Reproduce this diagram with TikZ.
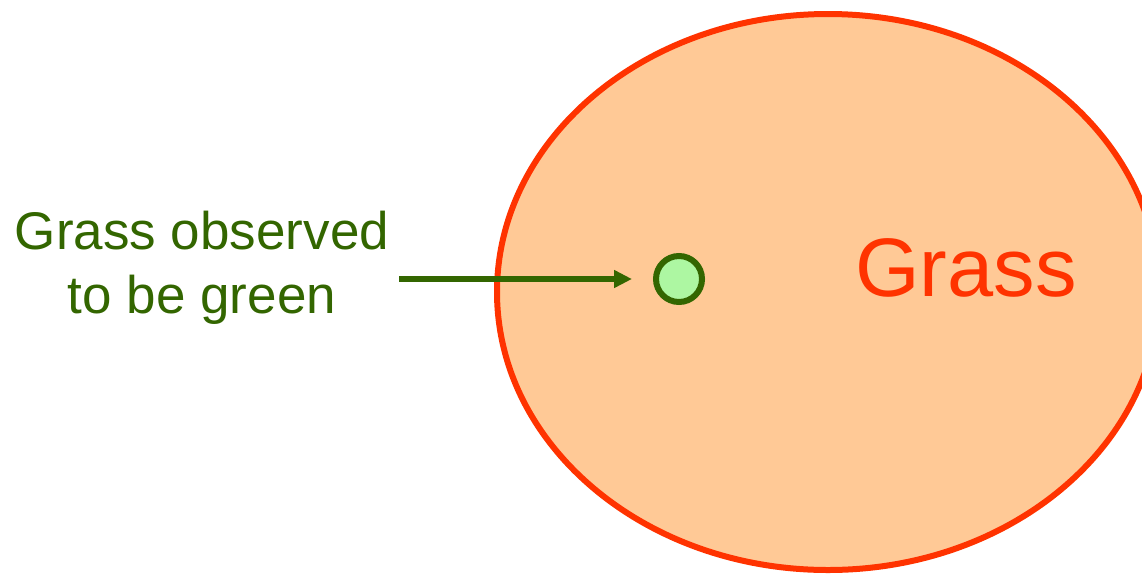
\documentclass[tikz,border=0pt]{standalone}
\usepackage{fontspec}
\setmainfont{Liberation Sans}
\usetikzlibrary{arrows.meta}
\definecolor{peach}{HTML}{FFC996}
\definecolor{redline}{HTML}{FF3300}
\definecolor{darkgreen}{HTML}{336600}
\definecolor{lightgreen}{HTML}{ADF7A2}
\begin{document}
\begin{tikzpicture}[x=1pt,y=-1pt,
  setbox/.style={draw=redline,fill=peach,line width=6pt},
  obs/.style={circle,draw=darkgreen,fill=lightgreen,line width=6pt,minimum size=46pt,inner sep=0pt},
  lbl/.style={text=darkgreen,font=\fontsize{53}{64}\selectfont,align=center},
  arr/.style={draw=darkgreen,line width=6pt,-{Triangle[length=18pt,width=17pt]},shorten >=21pt}]
\useasboundingbox (0,0) rectangle (1142,574);
\draw[setbox] (828,292) ellipse [x radius=331,y radius=278];
\node[text=redline,font=\fontsize{83}{90}\selectfont] (grass) at (966,268) {Grass};
\node[obs] (dot) at (679,279) {};
\node[lbl] (txt) at (202,268) {Grass observed\\to be green};
\coordinate (start) at (399,279);
\draw[arr] (start) -- (dot.west);
\end{tikzpicture}
\end{document}
